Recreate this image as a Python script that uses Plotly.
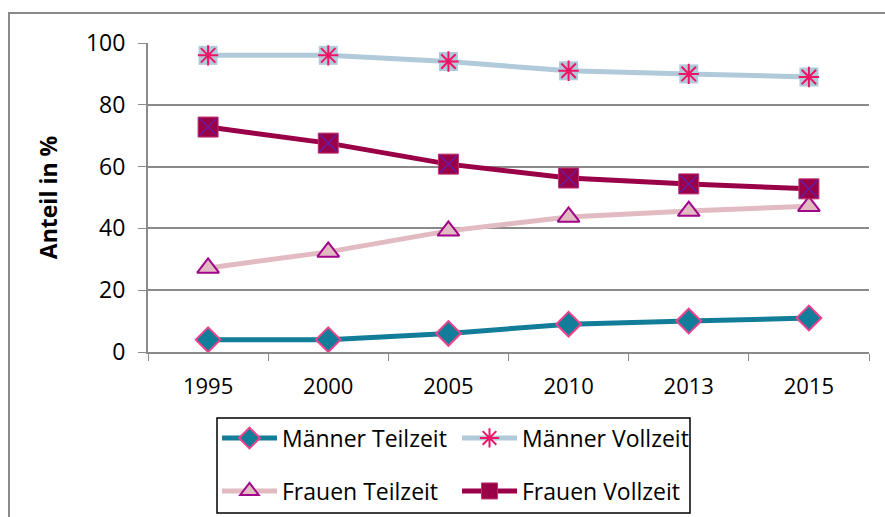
import plotly.graph_objects as go

years = ["1995", "2000", "2005", "2010", "2013", "2015"]
maenner_teilzeit = [4, 4, 6, 9, 10, 11]
maenner_vollzeit = [96, 96, 94, 91, 90, 89]
frauen_teilzeit = [27.2, 32.4, 39.2, 43.7, 45.6, 47.2]
frauen_vollzeit = [72.8, 67.6, 60.8, 56.3, 54.4, 52.8]

W, H = 885, 517
L, R, T, B = 148, 16, 43, 165
pw, ph = W - L - R, H - T - B

def px(x):
    return (x - L) / pw

def py(y):
    return (H - B - y) / ph

def cx(x):
    return x / W

def cy(y):
    return (H - y) / H

fig = go.Figure()

fig.add_trace(go.Scatter(
    x=years, y=maenner_teilzeit, name="Männer Teilzeit", mode="lines+markers",
    line=dict(color="#127D98", width=5),
    marker=dict(symbol="diamond", size=19, color="#127D98",
                line=dict(color="#F0408C", width=2))))

# square backdrop under the asterisks
fig.add_trace(go.Scatter(
    x=years, y=maenner_vollzeit, mode="markers", showlegend=False, hoverinfo="skip",
    marker=dict(symbol="square", size=19, color="#B0CADA")))
fig.add_trace(go.Scatter(
    x=years, y=maenner_vollzeit, name="Männer Vollzeit", mode="lines+markers",
    line=dict(color="#B0CADA", width=5),
    marker=dict(symbol="asterisk-open", size=17, color="#EE1566",
                line=dict(color="#EE1566", width=2))))

fig.add_trace(go.Scatter(
    x=years, y=frauen_teilzeit, name="Frauen Teilzeit", mode="lines+markers",
    line=dict(color="#E2BAC1", width=5), legend="legend2",
    marker=dict(symbol="triangle-up", size=19, color="#E2BAC1",
                line=dict(color="#A0058A", width=2))))

fig.add_trace(go.Scatter(
    x=years, y=frauen_vollzeit, name="Frauen Vollzeit", mode="lines+markers",
    line=dict(color="#9A0048", width=5), legend="legend2",
    marker=dict(symbol="square", size=20, color="#9A0048",
                line=dict(color="#C03070", width=1))))
fig.add_trace(go.Scatter(
    x=years, y=frauen_vollzeit, mode="markers", showlegend=False, hoverinfo="skip",
    marker=dict(symbol="x-thin-open", size=17, color="#6A1AA0",
                line=dict(color="#6A1AA0", width=1.5))))

leg = dict(
    orientation="h", xref="container", yref="container",
    x=cx(217), xanchor="left", yanchor="middle",
    entrywidth=170, entrywidthmode="pixels", itemwidth=55,
    borderwidth=0, bgcolor="rgba(0,0,0,0)",
    font=dict(family="Open Sans", size=23))

fig.update_layout(
    width=W, height=H,
    margin=dict(l=L, r=R, t=T, b=B, autoexpand=False),
    paper_bgcolor="white", plot_bgcolor="white",
    font=dict(family="Open Sans", size=22, color="black"),
    legend=dict(leg, y=cy(438)),
    legend2=dict(leg, y=cy(491)),
    shapes=[
        dict(type="rect", xref="paper", yref="paper",
             x0=px(9), x1=px(900), y0=py(540), y1=py(13),
             line=dict(color="#8A8A8A", width=2), layer="below"),
        dict(type="rect", xref="paper", yref="paper",
             x0=px(217), x1=px(690), y0=py(513), y1=py(418),
             line=dict(color="black", width=1.5), layer="below"),
    ],
)

fig.update_xaxes(
    type="category", range=[-0.5, 5.5], tickson="boundaries",
    ticks="outside", ticklen=7, ticklabelstandoff=14,
    tickcolor="#8A8A8A", showline=True, linecolor="#8A8A8A", linewidth=2,
    showgrid=False, tickfont=dict(size=22), fixedrange=True)

fig.update_yaxes(
    range=[0, 100], dtick=20, ticks="outside", ticklen=8, ticklabelstandoff=8,
    tickcolor="#8A8A8A", showline=True, linecolor="#8A8A8A", linewidth=2,
    showgrid=True, gridcolor="#8A8A8A", gridwidth=2, zeroline=False,
    tickfont=dict(size=23), fixedrange=True,
    title=dict(text="<b>Anteil in %</b>", font=dict(size=23), standoff=22))

fig.write_html("out.html", post_script="document.body.style.margin='0';",
               config={"displayModeBar": False})
